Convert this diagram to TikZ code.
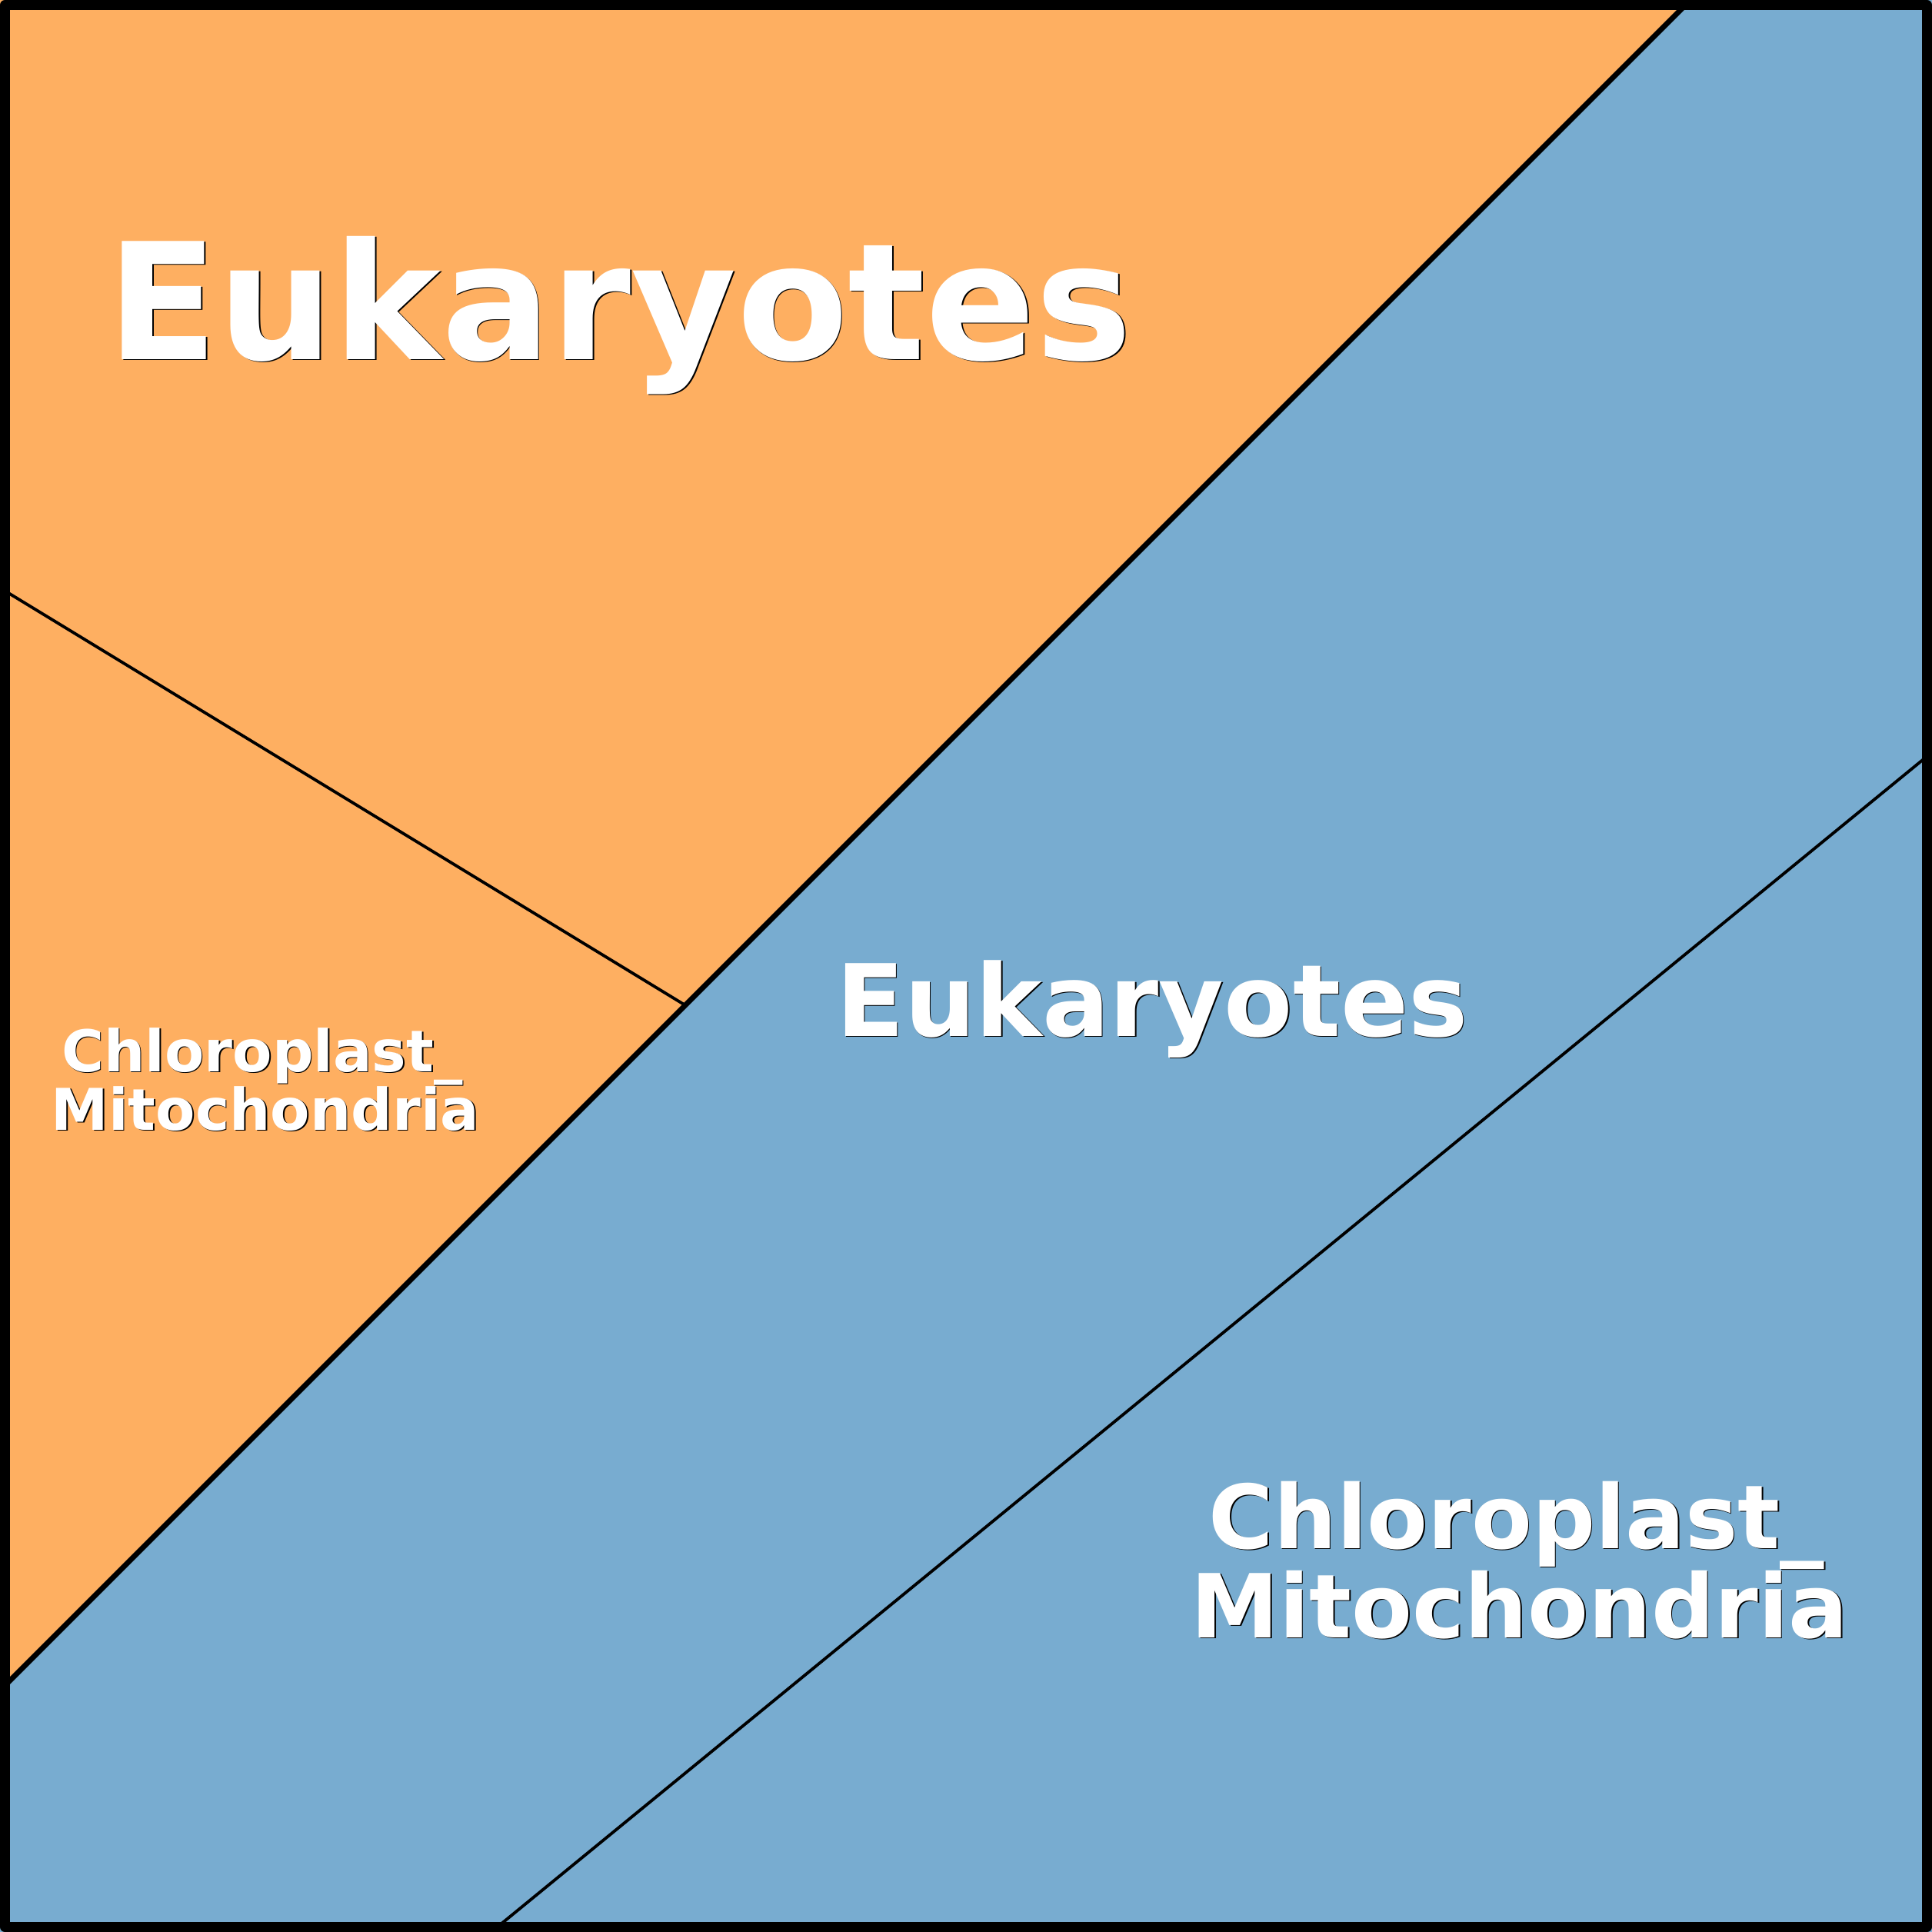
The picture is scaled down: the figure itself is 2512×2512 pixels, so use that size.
\documentclass[tikz,border=0pt]{standalone}
\usepackage{fontspec}
\setmainfont{DejaVu Sans}
\definecolor{orng}{RGB}{254,175,97}
\definecolor{blu}{RGB}{120,172,208}
\newcommand\shtxt[1]{\makebox[0pt][l]{\hspace{0.45pt}\raisebox{-0.45pt}{\textcolor{black}{#1}}}\textcolor{white}{#1}}
\tikzset{
  lbl/.style={inner sep=0pt, anchor=base},
  thinline/.style={draw=black, line width=1.1pt},
  thickline/.style={draw=black, line width=2pt},
  frame/.style={draw=black, line width=3.7pt, line join=round},
}
\begin{document}
\begin{tikzpicture}[x=0.1mm,y=-0.1mm]
\useasboundingbox (0,0) rectangle (2512,2512);
\fill[blu] (0,0) rectangle (2512,2512);
\fill[orng] (0,0) -- (2198,0) -- (0,2198) -- cycle;
% coordinates
\coordinate (dtop) at (2198,0);
\coordinate (dleft) at (0,2198);
\coordinate (l1a) at (6,768);
\coordinate (l1b) at (891,1307);
\coordinate (l2a) at (2506,983);
\coordinate (l2b) at (646,2506);
\draw[thickline] (dtop) -- (dleft);
\draw[thinline] (l1a) -- (l1b);
\draw[thinline] (l2a) -- (l2b);
% labels
\node[lbl, font=\bfseries\fontsize{60pt}{60pt}\selectfont] (e1) at (806,467) {\shtxt{Eukaryotes}};
\node[lbl, font=\bfseries\fontsize{37pt}{37pt}\selectfont] (e2) at (1498,1347) {\shtxt{Eukaryotes}};
\node[lbl, font=\bfseries\fontsize{21.3pt}{21.3pt}\selectfont] (c1) at (341,1393) {\shtxt{Chloroplast\_}};
\node[lbl, font=\bfseries\fontsize{21.3pt}{21.3pt}\selectfont] (m1) at (345,1469) {\shtxt{Mitochondria}};
\node[lbl, font=\bfseries\fontsize{32.7pt}{32.7pt}\selectfont] (c2) at (1972,2013) {\shtxt{Chloroplast\_}};
\node[lbl, font=\bfseries\fontsize{32.7pt}{32.7pt}\selectfont] (m2) at (1976,2129) {\shtxt{Mitochondria}};
% border
\draw[frame] (6.5,6.5) rectangle (2505.5,2505.5);
\end{tikzpicture}
\end{document}
